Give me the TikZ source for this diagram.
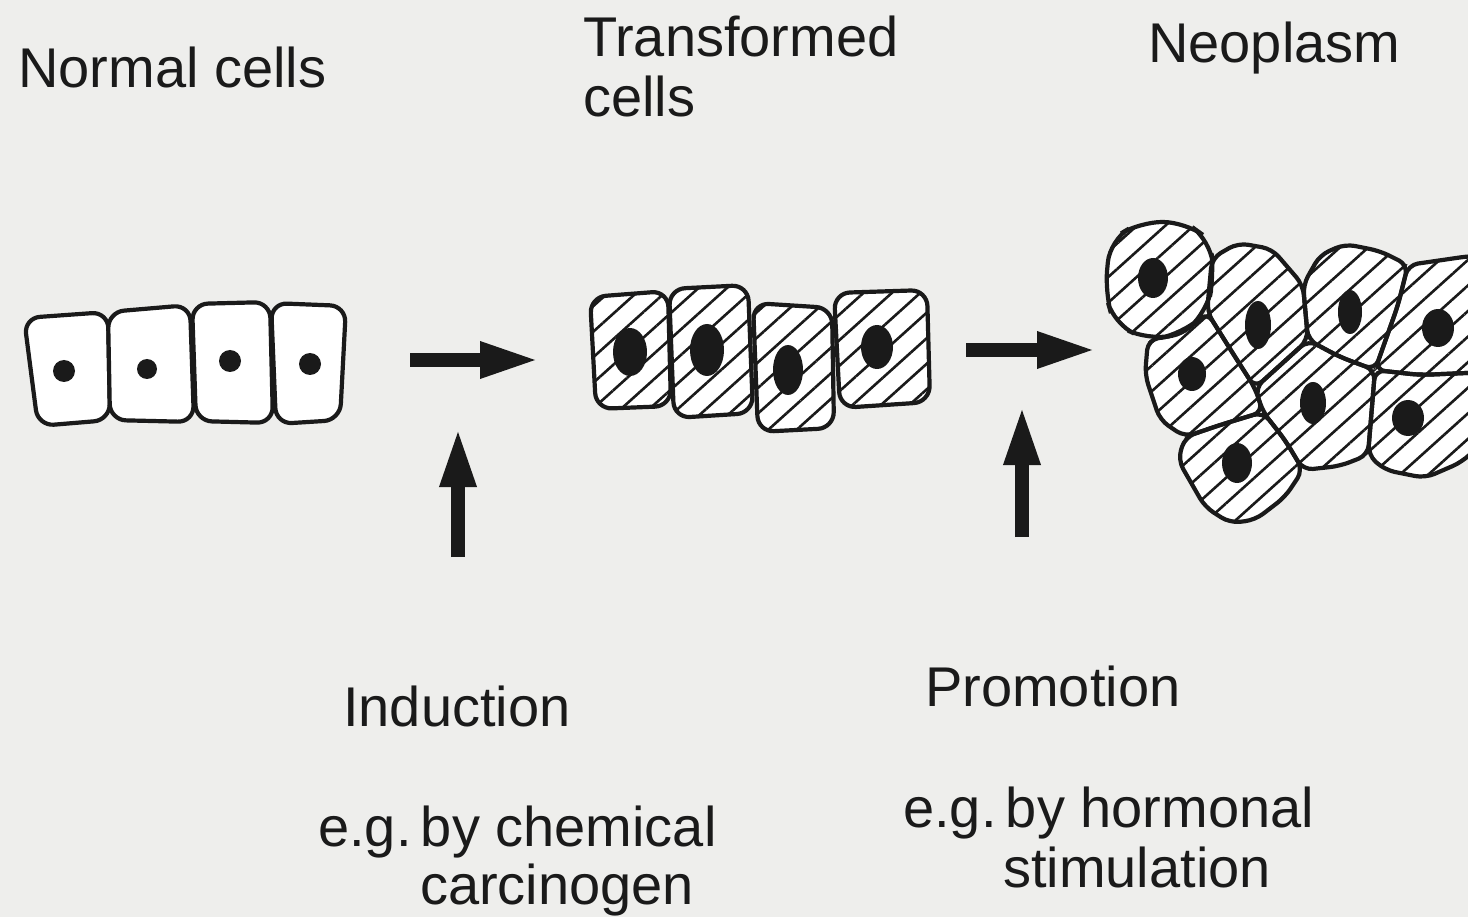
\documentclass[tikz,border=0pt]{standalone}
\usepackage{fontspec}
\setmainfont{Liberation Sans}
\usetikzlibrary{arrows.meta,patterns.meta}
\definecolor{paper}{HTML}{EEEEEC}
\definecolor{ink}{HTML}{1A1A1A}

\begin{document}
\begin{tikzpicture}[x=1pt,y=-1pt,
    every node/.style={font=\fontsize{56}{60}\selectfont,text=ink,inner sep=0pt,anchor=base west},
    wall/.style={draw=ink,line width=4.2pt,rounded corners=16pt,fill=white},
    hatched/.style={preaction={fill=white},pattern={Lines[angle=42,distance=19pt,line width=2.6pt]},pattern color=ink},
    neowall/.style={draw=ink,line width=4.2pt,rounded corners=10pt},
    nucleus/.style={fill=ink},
    push/.style={draw=ink,line width=14pt,-{Triangle[length=60pt,width=33pt]}}]
    \useasboundingbox (0,0) rectangle (1468,917);
    \clip (0,0) rectangle (1468,917);
    \fill[paper] (0,0) rectangle (1468,917);

    % normal epithelium
    \draw[wall] (24,318) -- (108,312) -- (110,420) -- (38,426) -- cycle;
    \draw[wall] (108,312) -- (190,305) -- (194,422) -- (110,420) -- cycle;
    \draw[wall] (192,304) -- (270,302) -- (273,423) -- (196,421) -- cycle;
    \draw[wall] (271,303) -- (346,306) -- (340,420) -- (276,424) -- cycle;
    \foreach \x/\y/\r in {64/371/11,147/369/10,230/361/11,310/364/11}
      \fill[nucleus] (\x,\y) circle (\r);

    % transformed cells
    \draw[wall,hatched] (590,297) -- (668,291) -- (671,406) -- (596,409) -- cycle;
    \draw[wall,hatched] (669,289) -- (748,285) -- (753,413) -- (674,418) -- cycle;
    \draw[wall,hatched] (753,303) -- (832,308) -- (834,428) -- (758,432) -- cycle;
    \draw[wall,hatched] (834,293) -- (927,290) -- (930,402) -- (840,408) -- cycle;
    \foreach \x/\y/\a/\b in {630/352/17/24,707/350/17/26,788/370/15/25,877/347/16/22}
      \fill[nucleus] (\x,\y) ellipse [x radius=\a,y radius=\b];

    % neoplasm
    \def\cellA{[rounded corners=22pt] (1105,292) -- (1110,240) -- (1140,222) -- (1185,222) -- (1210,240) -- (1214,275) -- (1207,312) -- (1182,334) -- (1148,340) -- (1114,324) -- cycle}
    \def\cellB{(1207,312) -- (1212,258) -- (1238,243) -- (1272,249) -- (1303,285) -- (1308,340) -- (1255,388) -- (1232,352) -- cycle}
    \def\cellC{(1303,285) -- (1320,255) -- (1345,244) -- (1380,251) -- (1408,265) -- (1398,305) -- (1375,370) -- (1340,357) -- (1308,340) -- cycle}
    \def\cellD{(1408,265) -- (1470,256) -- (1490,256) -- (1490,372) -- (1420,375) -- (1375,370) -- (1398,305) -- cycle}
    \def\cellE{(1375,370) -- (1420,375) -- (1490,372) -- (1490,435) -- (1462,462) -- (1425,478) -- (1385,470) -- (1368,455) -- cycle}
    \def\cellF{(1308,340) -- (1340,357) -- (1375,370) -- (1368,455) -- (1340,466) -- (1303,470) -- (1285,440) -- (1263,412) -- (1255,388) -- cycle}
    \def\cellG{(1148,340) -- (1182,334) -- (1207,312) -- (1232,352) -- (1255,388) -- (1263,412) -- (1220,425) -- (1185,437) -- (1160,420) -- (1145,375) -- cycle}
    \def\cellH{(1185,437) -- (1220,425) -- (1263,412) -- (1285,440) -- (1303,470) -- (1285,497) -- (1255,520) -- (1230,523) -- (1205,507) -- (1178,460) -- cycle}
    \foreach \c in {\cellA,\cellB,\cellC,\cellD,\cellE,\cellF,\cellG,\cellH}
      \path[hatched] \c;
    \foreach \c in {\cellA,\cellB,\cellC,\cellD,\cellE,\cellF,\cellG,\cellH}
      \draw[neowall] \c;
    \foreach \x/\y/\a/\b in {1153/278/15/20,1258/325/13/24,1350/312/12/22,1438/328/16/19,
                             1192/374/14/17,1313/403/13/21,1408/418/16/18,1237/463/15/20}
      \fill[nucleus] (\x,\y) ellipse [x radius=\a,y radius=\b];

    % arrows
    \coordinate (stepone) at (410,360);
    \coordinate (steponeend) at (540,360);
    \coordinate (induce) at (458,557);
    \coordinate (induceend) at (458,427);
    \coordinate (steptwo) at (966,350);
    \coordinate (steptwoend) at (1097,350);
    \coordinate (promote) at (1022,537);
    \coordinate (promoteend) at (1022,405);
    \draw[push] (stepone) -- (steponeend);
    \draw[push] (induce) -- (induceend);
    \draw[push] (steptwo) -- (steptwoend);
    \draw[push] (promote) -- (promoteend);

    % labels
    \node (normal) at (18,88) {Normal cells};
    \node (transformed) at (583,57) {Transformed};
    \node (transcells) at (583,117) {cells};
    \node (neoplasm) at (1148,63) {Neoplasm};
    \node (induction) at (343,726) {Induction};
    \node (chem) at (318,846) {e.g.\,by chemical};
    \node (carc) at (420,904) {carcinogen};
    \node (promotion) at (925,706) {Promotion};
    \node (horm) at (903,827) {e.g.\,by hormonal};
    \node (stim) at (1003,887) {stimulation};
  \end{tikzpicture}
\end{document}
